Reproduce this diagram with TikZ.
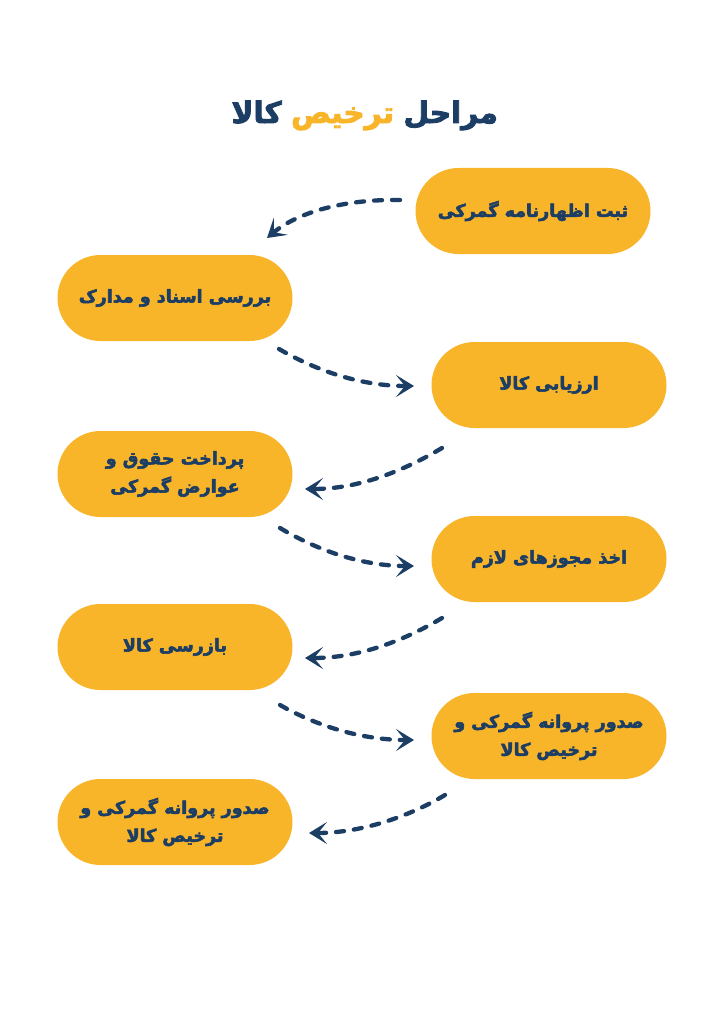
\documentclass[tikz,border=0pt]{standalone}
\usepackage{fontspec}
\usetikzlibrary{arrows.meta}
\TeXXeTstate=1
\newfontfamily\fafont[Script=Arabic,BoldFeatures={FakeBold=3}]{DejaVu Sans}
\definecolor{navy}{HTML}{1C3D64}
\definecolor{gold}{HTML}{F9B529}
\begin{document}
\begin{tikzpicture}[x=1pt,y=-1pt,
  pill/.style={draw=none,fill=gold,rounded corners=43pt,minimum width=235pt,minimum height=86pt,
    text=navy,font=\fafont\bfseries\fontsize{17.5}{28}\selectfont,align=center,inner sep=0pt},
  ttl/.style={inner sep=0pt,font=\fafont\bfseries\fontsize{29.5}{34}\selectfont,anchor=base east},
  flow/.style={draw=navy,line width=4.3pt,line cap=round,dash pattern=on 8pt off 10pt,
    -{Stealth[length=18pt,width=22pt,inset=9pt]}}]
\useasboundingbox[fill=white] (0,0) rectangle (724,1024);
\node[ttl,text=navy] (t1) at (498,123) {\beginR مراحل\endR};
\node[ttl,text=gold] (t2) at ([xshift=-9pt]t1.base west) {\beginR ترخیص\endR};
\node[ttl,text=navy] (t3) at ([xshift=-9pt]t2.base west) {\beginR کالا\endR};
\node[pill] (s1) at (533,211) {\beginR ثبت اظهارنامه گمرکی\endR};
\node[pill] (s2) at (175,298) {\beginR بررسی اسناد و مدارک\endR};
\node[pill] (s3) at (549,385) {\beginR ارزیابی کالا\endR};
\node[pill] (s4) at (175,474) {\beginR پرداخت حقوق و\endR\\\beginR عوارض گمرکی\endR};
\node[pill] (s5) at (549,559) {\beginR اخذ مجوزهای لازم\endR};
\node[pill] (s6) at (175,647) {\beginR بازرسی کالا\endR};
\node[pill] (s7) at (549,736) {\beginR صدور پروانه گمرکی و\endR\\\beginR ترخیص کالا\endR};
\node[pill] (s8) at (175,822) {\beginR صدور پروانه گمرکی و\endR\\\beginR ترخیص کالا\endR};
\coordinate (a1s) at (400,200); \coordinate (a1e) at (267,238);
\coordinate (a2s) at (279,349); \coordinate (a2e) at (414,386);
\coordinate (a3s) at (442,448); \coordinate (a3e) at (305,489);
\coordinate (a4s) at (280,528); \coordinate (a4e) at (414,566);
\coordinate (a5s) at (442,618); \coordinate (a5e) at (305,658);
\coordinate (a6s) at (280,705); \coordinate (a6e) at (414,740);
\coordinate (a7s) at (445,795); \coordinate (a7e) at (309,833);
\draw[flow] (a1s) .. controls (345,199) and (298,212) .. (a1e);
\draw[flow] (a2s) .. controls (315,370) and (360,386) .. (a2e);
\draw[flow] (a3s) .. controls (405,470) and (360,489) .. (a3e);
\draw[flow] (a4s) .. controls (315,549) and (360,566) .. (a4e);
\draw[flow] (a5s) .. controls (405,640) and (360,658) .. (a5e);
\draw[flow] (a6s) .. controls (315,725) and (360,740) .. (a6e);
\draw[flow] (a7s) .. controls (410,816) and (362,833) .. (a7e);
\end{tikzpicture}
\end{document}
